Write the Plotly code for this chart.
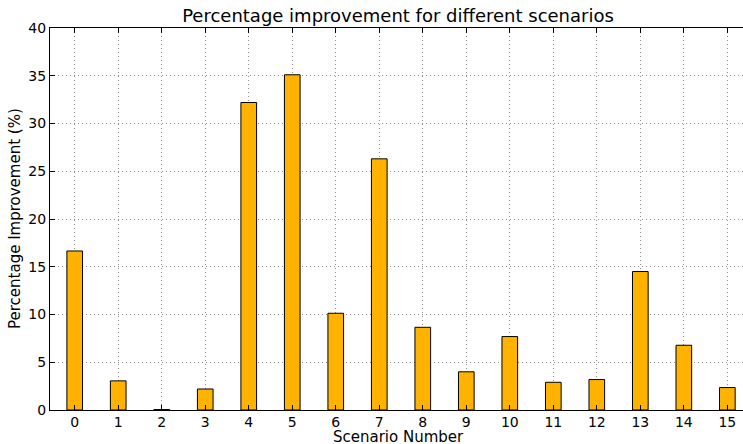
import plotly.graph_objects as go

# Scenario ids and measured improvement (%)
scenarios = list(range(16))
improvement = [16.65, 3.05, 0.05, 2.2, 32.2, 35.1, 10.13, 26.3,
               8.66, 4.0, 7.69, 2.9, 3.19, 14.5, 6.78, 2.35]
y_ticks = [0, 5, 10, 15, 20, 25, 30, 35, 40]

FONT = "DejaVu Sans"

fig = go.Figure()
fig.add_trace(go.Bar(
    x=scenarios,
    y=improvement,
    width=0.36,
    marker=dict(color="#ffb300", line=dict(color="black", width=1)),
))

axis_common = dict(
    showline=True,
    linecolor="black",
    linewidth=1,
    ticks="inside",
    ticklen=5,
    tickcolor="black",
    showgrid=True,
    gridcolor="#8c8c8c",
    griddash="1px,3px",
    gridwidth=1,
    zeroline=False,
    layer="above traces",
    tickfont=dict(family=FONT, size=14, color="black"),
)

fig.update_layout(
    width=743,
    height=444,
    margin=dict(l=50, r=0, t=28, b=34),
    paper_bgcolor="white",
    plot_bgcolor="white",
    showlegend=False,
    title=dict(
        text="Percentage improvement for different scenarios",
        x=398 / 743,
        xref="container",
        xanchor="center",
        y=1 - 16 / 444,
        yref="container",
        yanchor="middle",
        font=dict(family=FONT, size=18, color="black"),
    ),
    xaxis=dict(
        axis_common,
        range=[-0.568, 15.36],
        tickmode="array",
        tickvals=scenarios,
        ticktext=[str(s) for s in scenarios],
        mirror="ticks",
        automargin=False,
        ticklabelstandoff=-1,
    ),
    yaxis=dict(
        axis_common,
        range=[0, 40],
        tickmode="array",
        tickvals=y_ticks,
        ticktext=[str(v) for v in y_ticks],
        automargin=False,
    ),
    annotations=[
        dict(text="Scenario Number", xref="paper", yref="paper",
             x=(398 - 50) / 693, y=-34 / 382, xanchor="center", yanchor="bottom",
             yshift=-3, borderpad=0,
             showarrow=False, font=dict(family=FONT, size=15, color="black")),
        dict(text="Percentage Improvement (%)", xref="paper", yref="paper",
             x=-35 / 693, y=0.5, xanchor="center", yanchor="middle", textangle=-90,
             showarrow=False, font=dict(family=FONT, size=15, color="black")),
    ],
)

fig.write_html("out.html")
